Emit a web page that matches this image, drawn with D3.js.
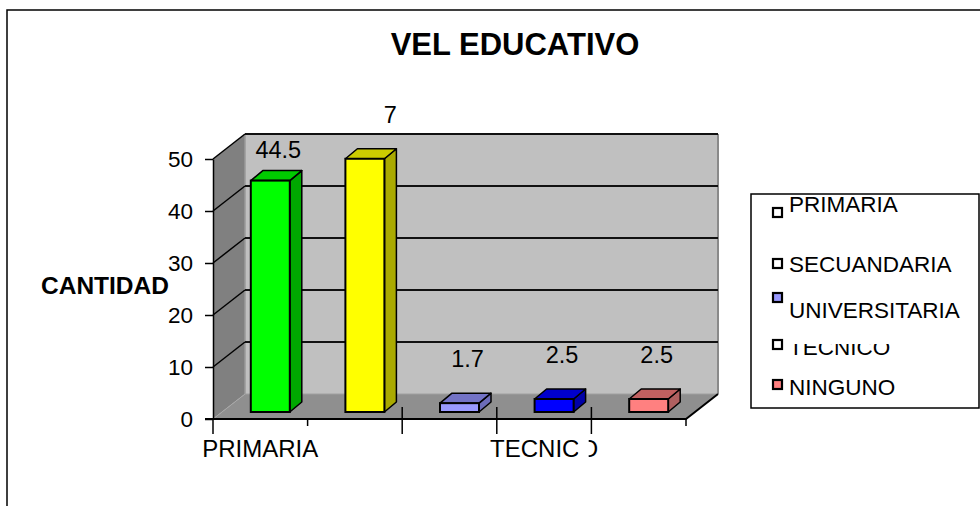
<html>
<head>
<meta http-equiv="content-type" content="text/html; charset=UTF8">
<title>Nivel educativo</title>
<style type="text/css">
body { margin: 0; padding: 0; overflow: hidden; background: #fff; }
text { font-family: "Liberation Sans", Arial, sans-serif; }
</style>
</head>
<body>
<div id="chart"></div>
<script src="https://cdnjs.cloudflare.com/ajax/libs/d3/7.8.5/d3.min.js"></script>
<script>

var categories = ["PRIMARIA", "SECUANDARIA", "UNIVERSITARIA", "TECNICO", "NINGUNO"];
var values = [44.5, 48.7, 1.7, 2.5, 2.5];
var valueLabels = ["44.5", "7", "1.7", "2.5", "2.5"];
var yTicks = [0, 10, 20, 30, 40, 50];
var xLabels = ["PRIMARIA", "", "", "TECNICO", ""];
var legendFills = ["#ffffff", "#ffffff", "#9999ff", "#ffffff", "#ff8080"];

// front, top, side colours for each bar
var barColors = [
    ["#00ff00", "#00cc00", "#00a800"],
    ["#ffff00", "#cccc00", "#aaaa00"],
    ["#9999ff", "#7373c6", "#6c6cb8"],
    ["#0000ff", "#0000cc", "#0000a8"],
    ["#ff8080", "#c06060", "#b06060"]
];

var W = 980, H = 506;
var DX = 32, DY = -25;          // depth of the 3d box
var svg = d3.select("#chart").append("svg")
    .attr("width", W).attr("height", H);

// outer frame
svg.append("rect")
    .attr("x", 7).attr("y", 10).attr("width", 1000).attr("height", 600)
    .attr("fill", "none").attr("stroke", "#000").attr("stroke-width", 1.5);

var x = d3.scaleBand().domain(categories).range([213, 686]);
var y = d3.scaleLinear().domain([0, 50]).range([419, 159]);

var x0 = x.range()[0], x1 = x.range()[1];
var y0 = y(0), yTop = y(50);

// walls
var box = svg.append("g");
box.append("polygon") // back wall
    .attr("points", [[x0 + DX, yTop + DY], [x1 + DX, yTop + DY], [x1 + DX, y0 + DY], [x0 + DX, y0 + DY]].join(" "))
    .attr("fill", "#c0c0c0");
box.append("polygon") // left wall
    .attr("points", [[x0, yTop], [x0 + DX, yTop + DY], [x0 + DX, y0 + DY], [x0, y0]].join(" "))
    .attr("fill", "#808080");
box.append("polygon") // floor
    .attr("points", [[x0, y0], [x0 + DX, y0 + DY], [x1 + DX, y0 + DY], [x1, y0]].join(" "))
    .attr("fill", "#8f8f8f");
box.append("line")
    .attr("x1", x0 + DX).attr("y1", yTop + DY).attr("x2", x0 + DX).attr("y2", y0 + DY)
    .attr("stroke", "#9a9a9a").attr("stroke-width", 1.5);
box.append("line")
    .attr("x1", x1 + DX).attr("y1", yTop + DY).attr("x2", x1 + DX).attr("y2", y0 + DY)
    .attr("stroke", "#8a8a8a").attr("stroke-width", 2);
box.append("line")
    .attr("x1", x0).attr("y1", y0).attr("x2", x0 + DX).attr("y2", y0 + DY)
    .attr("stroke", "#a8a8a8").attr("stroke-width", 1);
box.append("line")
    .attr("x1", x0 + DX).attr("y1", y0 + DY).attr("x2", x1 + DX).attr("y2", y0 + DY)
    .attr("stroke", "#a0a0a0").attr("stroke-width", 1);

// gridlines
yTicks.filter(function(d){ return d > 0; }).forEach(function(d){
    box.append("line")
        .attr("x1", x0).attr("y1", y(d)).attr("x2", x0 + DX).attr("y2", y(d) + DY)
        .attr("stroke", "#000").attr("stroke-width", 1.5);
    box.append("line")
        .attr("x1", x0 + DX).attr("y1", y(d) + DY).attr("x2", x1 + DX).attr("y2", y(d) + DY)
        .attr("stroke", "#111").attr("stroke-width", 2);
});

// floor edges
box.append("polyline")
    .attr("points", [[x0 - 8, y0], [x1, y0], [x1 + DX, y0 + DY]].join(" "))
    .attr("fill", "none").attr("stroke", "#000").attr("stroke-width", 2);

// y axis
svg.append("g")
    .attr("transform", "translate(" + x0 + ",0)")
    .call(d3.axisLeft(y).tickValues(yTicks).tickSize(8).tickSizeOuter(0).tickPadding(12))
    .call(function(g){
        g.select(".domain").attr("stroke", "#000").attr("stroke-width", 1.5);
        g.selectAll(".tick line").attr("stroke", "#000").attr("stroke-width", 1.5);
        g.selectAll(".tick text").attr("font-size", 22.5).attr("fill", "#000")
            .attr("font-family", "'Liberation Sans', Arial, sans-serif");
    });

// x ticks at category boundaries
var bounds = categories.map(function(c){ return x(c); }).concat([x1]);
svg.selectAll(".xtick").data(bounds).enter().append("line")
    .attr("class", "xtick")
    .attr("x1", function(d){ return d; }).attr("x2", function(d){ return d; })
    .attr("y1", function(d, i){ return (i === 0 || i === 1 || i === 5) ? y0 : y0 - 12; })
    .attr("y2", function(d, i){ return (i === 1 || i === 5) ? y0 + 7 : y0 + 15; })
    .attr("stroke", "#000").attr("stroke-width", 1.5);

// bars
var FX = 9, FY = -7, BX = 12, BY = -10, BW = 39;
var bars = svg.selectAll(".bar").data(values).enter().append("g").attr("class", "bar");
bars.each(function(v, i){
    var g = d3.select(this);
    var left = x(categories[i]) + x.bandwidth() / 2 - BW / 2 + 1 + FX;
    var right = left + BW;
    var bottom = y(0) + FY, top = y(v) + FY;
    g.append("polygon")
        .attr("points", [[right, top], [right + BX, top + BY], [right + BX, bottom + BY], [right, bottom]].join(" "))
        .attr("fill", barColors[i][2]).attr("stroke", "#000").attr("stroke-width", 1.5).attr("stroke-linejoin", "round");
    g.append("polygon")
        .attr("points", [[left, top], [left + BX, top + BY], [right + BX, top + BY], [right, top]].join(" "))
        .attr("fill", barColors[i][1]).attr("stroke", "#000").attr("stroke-width", 1.5).attr("stroke-linejoin", "round");
    g.append("rect")
        .attr("x", left).attr("y", top).attr("width", BW).attr("height", bottom - top)
        .attr("fill", barColors[i][0]).attr("stroke", "#000").attr("stroke-width", 2);

    var cx = (left + right + BX) / 2;
    var lab = g.append("text")
        .attr("y", top + BY - (i === 0 ? 13 : 26))
        .attr("font-size", 23.5).attr("fill", "#000")
        .text(valueLabels[i]);
    if (i === 1) lab.attr("x", cx + 26).attr("text-anchor", "end");
    else lab.attr("x", cx + 2).attr("text-anchor", "middle");
});

// x labels
svg.selectAll(".xlab").data(xLabels).enter().append("text")
    .attr("class", "xlab")
    .attr("x", function(d, i){ return x(categories[i]) + x.bandwidth() / 2; })
    .attr("y", 457)
    .attr("text-anchor", "middle")
    .attr("font-size", 24).attr("fill", "#000")
    .text(function(d){ return d; })
    .each(function(d){
        // the last letter of TECNICO is partly hidden in the original
        if (d === "TECNICO") {
            var b = this.getExtentOfChar(6);
            svg.append("rect")
                .attr("x", b.x - 1).attr("y", b.y)
                .attr("width", b.width * 0.55).attr("height", b.height)
                .attr("fill", "#fff");
        }
    });

// titles
svg.append("text")
    .attr("x", 515).attr("y", 55)
    .attr("text-anchor", "middle")
    .attr("font-size", 31).attr("font-weight", "bold")
    .text("VEL EDUCATIVO");

svg.append("text")
    .attr("x", 41).attr("y", 294)
    .attr("font-size", 24.5).attr("font-weight", "bold")
    .text("CANTIDAD");

// legend
var legend = svg.append("g");
legend.append("rect")
    .attr("x", 751).attr("y", 194).attr("width", 228).attr("height", 214)
    .attr("fill", "#fff").attr("stroke", "#000").attr("stroke-width", 1.5);

var swatchY = [208, 259, 293, 340, 380];
var textY = [212, 272, 318, 355, 395];

legend.append("clipPath").attr("id", "tecClip")
    .append("rect").attr("x", 751).attr("y", 344).attr("width", 228).attr("height", 40);

categories.forEach(function(c, i){
    legend.append("rect")
        .attr("x", 773).attr("y", swatchY[i]).attr("width", 9).attr("height", 9)
        .attr("fill", legendFills[i]).attr("stroke", "#000").attr("stroke-width", 2.2);
    var t = legend.append("text")
        .attr("x", 789).attr("y", textY[i])
        .attr("font-size", 22.5).attr("fill", "#000")
        .text(c);
    if (c === "TECNICO") t.attr("clip-path", "url(#tecClip)");
});

</script>
</body>
</html>
